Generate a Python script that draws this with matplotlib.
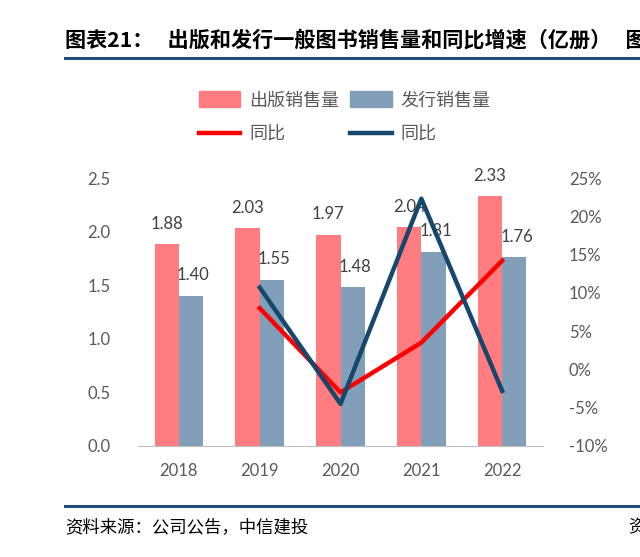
import matplotlib.pyplot as plt
from matplotlib.lines import Line2D
from matplotlib.patches import Patch
import numpy as np

plt.rcParams['font.family'] = ['Lato', 'Noto Sans CJK SC', 'DejaVu Sans']

years = ['2018', '2019', '2020', '2021', '2022']
pub_sales = [1.88, 2.03, 1.97, 2.04, 2.33]
dist_sales = [1.40, 1.55, 1.48, 1.81, 1.76]
pub_yoy = [None, 8.0, -3.0, 3.5, 14.2]
dist_yoy = [None, 10.7, -4.5, 22.3, -2.8]

pink = '#FF7C80'
steel = '#819FB9'
red = '#FF0000'
navy = '#16486E'
gray = '#595959'

fig = plt.figure(figsize=(6.4, 5.57), dpi=100)
ax = fig.add_axes([0.2164, 0.1993, 0.6313, 0.4811])
ax2 = ax.twinx()

x = np.arange(len(years))
w = 0.3
ax.bar(x - w / 2, pub_sales, w, color=pink, zorder=2)
ax.bar(x + w / 2, dist_sales, w, color=steel, zorder=2)

for i in range(len(years)):
    ax.annotate(f'{pub_sales[i]:.2f}', (x[i] - w / 2, pub_sales[i]), xytext=(0, 9),
                textcoords='offset points', ha='center', va='bottom', fontsize=12, color='#404040')
    ax.annotate(f'{dist_sales[i]:.2f}', (x[i] + w / 2 + 0.03, dist_sales[i]), xytext=(0, 9),
                textcoords='offset points', ha='center', va='bottom', fontsize=12, color='#404040')

ax2.plot(x[1:], pub_yoy[1:], color=red, lw=3.2, zorder=3)
ax2.plot(x[1:], dist_yoy[1:], color=navy, lw=3.2, zorder=4)

ax.set_xlim(-0.5, 4.5)
ax.set_ylim(0, 2.5)
ax.set_yticks(np.arange(0, 2.51, 0.5))
ax.set_yticklabels([f'{v:.1f}' for v in np.arange(0, 2.51, 0.5)])
ax2.set_ylim(-10, 25)
ax2.set_yticks(np.arange(-10, 26, 5))
ax2.set_yticklabels([f'{v}%' for v in range(-10, 26, 5)])
ax.set_xticks(x)
ax.set_xticklabels(years)

for a in (ax, ax2):
    for s in a.spines.values():
        s.set_visible(False)
    a.tick_params(length=0, labelsize=12, labelcolor=gray)
ax.spines['bottom'].set_visible(True)
ax.spines['bottom'].set_color('#BFBFBF')
ax.tick_params(axis='y', pad=20)
ax.tick_params(axis='x', pad=12)
ax2.tick_params(axis='y', pad=19)

handles = [Patch(color=pink), Line2D([], [], color=red, lw=3.2),
           Patch(color=steel), Line2D([], [], color=navy, lw=3.2)]
labels = ['出版销售量', '同比', '发行销售量', '同比']
fig.legend(handles, labels, ncol=2, loc='center left', bbox_to_anchor=(0.285, 0.79),
           frameon=False, fontsize=13, handlelength=2.3, handleheight=1.0,
           handletextpad=0.5, columnspacing=0.6, labelspacing=0.95,
           labelcolor=gray)

# title and frame lines
fig.text(65 / 640, 1 - 40 / 557, '图表21：   出版和发行一般图书销售量和同比增速（亿册）   图',
         fontsize=15.2, fontweight='bold', color='black', va='center',
         family=['Noto Sans CJK SC'])
fig.add_artist(Line2D([65 / 640, 1], [1 - 58 / 557] * 2, color='#1F4E79', lw=2.2))
fig.add_artist(Line2D([65 / 640, 1], [1 - 506 / 557] * 2, color='#1F4E79', lw=2.2))
fig.text(65 / 640, 1 - 527 / 557, '资料来源：公司公告，中信建投', fontsize=12.5,
         color='black', va='center', family=['Noto Sans CJK SC'])
fig.text(628 / 640, 1 - 527 / 557, '资', fontsize=12.5, color='black', va='center',
         family=['Noto Sans CJK SC'])

fig.savefig('out.png', dpi=100)
